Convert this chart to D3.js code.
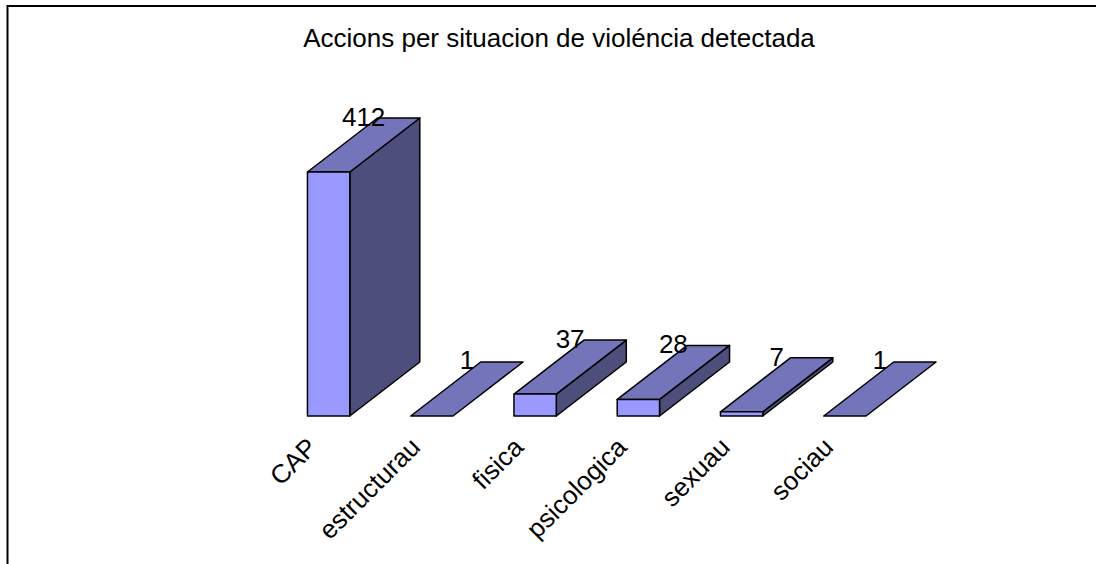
<!DOCTYPE html>
<html><head><meta charset="utf-8">
<script src="https://cdn.jsdelivr.net/npm/d3@7/dist/d3.min.js"></script>
<style>html,body{margin:0;padding:0;background:#fff}svg{display:block}text{font-family:"Liberation Sans",Arial,sans-serif;fill:#000}</style>
</head><body><div id="c"></div>
<script>
const categories=["CAP","estructurau","fisica","psicologica","sexuau","sociau"];
const values=[412,1,37,28,7,1];
const titleText="Accions per situacion de violéncia detectada";
const W=1096,H=564;
const svg=d3.select("#c").append("svg").attr("width",W).attr("height",H);
svg.append("path").attr("d",`M7.5,564V6H1096`).attr("fill","none").attr("stroke","#000").attr("stroke-width",2);
svg.append("text").attr("x",559).attr("y",47).attr("text-anchor","middle").attr("font-size",26).text(titleText);
const x=d3.scaleBand().domain(categories).range([277,896.5]).paddingInner(0.59).paddingOuter(0.295);
const y=d3.scaleLinear().domain([0,412]).range([416,172]);
const depthX=70,depthY=54;
const g=svg.append("g").attr("stroke","#000").attr("stroke-width",1.5).attr("stroke-linejoin","round");
const poly=(pts,fill)=>g.append("polygon").attr("points",pts.map(p=>p.join(",")).join(" ")).attr("fill",fill);
categories.forEach((c,i)=>{
  const x0=x(c),x1=x0+x.bandwidth(),yb=y(0);
  const yt=yb-y(values[i])<1?yb:y(values[i]);
  if(yt<yb) poly([[x1,yt],[x1+depthX,yt-depthY],[x1+depthX,yb-depthY],[x1,yb]],"#4e4e7c");
  poly([[x0,yt],[x0+depthX,yt-depthY],[x1+depthX,yt-depthY],[x1,yt]],"#7474ba");
  if(yt<yb) poly([[x0,yt],[x1,yt],[x1,yb],[x0,yb]],"#9999ff");
});
categories.forEach((c,i)=>{
  const x0=x(c);
  svg.append("text").attr("x",x0+x.bandwidth()/2+depthX/2).attr("y",y(values[i])-depthY+8)
    .attr("text-anchor","middle").attr("font-size",26).text(values[i]);
  svg.append("text").attr("transform",`translate(${x0+x.bandwidth()/2-23},${436}) rotate(-45)`)
    .attr("text-anchor","end").attr("dy","0.7em").attr("font-size",26).text(c);
});
</script></body></html>
